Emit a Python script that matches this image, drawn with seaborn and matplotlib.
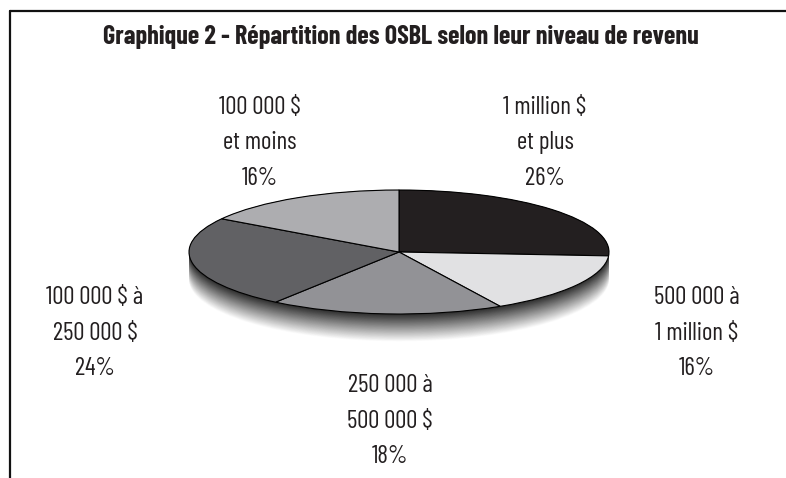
import numpy as np
import seaborn as sns
import matplotlib.pyplot as plt
from matplotlib.patches import Ellipse

# Données du graphique
categories = ['1 million $\net plus', '500 000 à\n1 million $', '250 000 à\n500 000 $',
              '100 000 $ à\n250 000 $', '100 000 $\net moins']
parts = [26, 16, 18, 24, 16]
slice_colors = ['#231f20', '#e1e1e3', '#929296', '#616164', '#adadb0']
title = 'Graphique 2 - Répartition des OSBL selon leur niveau de revenu'

sns.set_style("white")
plt.rcParams['font.family'] = ['Barlow Condensed', 'DejaVu Sans']
ink = '#231f20'

W, H = 786, 478
fig = plt.figure(figsize=(W / 100, H / 100), dpi=100)

# cadre (haut et gauche)
frame = fig.add_axes([0, 0, 1, 1])
frame.set_xlim(0, W)
frame.set_ylim(H, 0)
frame.axis('off')
frame.plot([9.5, W], [10.5, 10.5], color='#111111', lw=1.6)
frame.plot([9.5, 9.5], [10.5, H], color='#111111', lw=1.6)

# axes du camembert : ellipse 420 x 124 px, centre (399, 252)
cx, cy, rx, ry = 399, 252, 210, 62
depth = 1.5
top_px = cy - ry
bot_px = cy + depth * ry
ax = fig.add_axes([(cx - rx) / W, (H - bot_px) / H, 2 * rx / W, (bot_px - top_px) / H])

# épaisseur dégradée sous le disque
n = 45
shades = sns.blend_palette(['#2c2c2c', '#ffffff'], n)
offsets = np.linspace(0, 0.45, n)
for off, col in list(zip(offsets, shades))[::-1]:
    ax.add_patch(Ellipse((0, -off), 2, 2, facecolor=col, edgecolor='none'))

ax.pie(parts, colors=slice_colors, startangle=90, counterclock=False, radius=1,
       wedgeprops=dict(edgecolor='black', linewidth=0.8))
ax.set_aspect('auto')
ax.set_xlim(-1, 1)
ax.set_ylim(-depth, 1)
ax.axis('off')

# titre
fig.text(401 / W, 1 - 37 / H, title, ha='center', va='center',
         fontsize=18.8, fontweight='bold', color=ink)

# étiquettes
label_pos = [(545, 143), (697, 333), (390, 421), (95, 333), (260, 143)]
for cat, p, (x, y) in zip(categories, parts, label_pos):
    fig.text(x / W, 1 - y / H, f'{cat}\n{p}%', ha='center', va='center',
             fontsize=18, fontweight='normal', color=ink, linespacing=1.68)

fig.savefig('out.png', dpi=100)
